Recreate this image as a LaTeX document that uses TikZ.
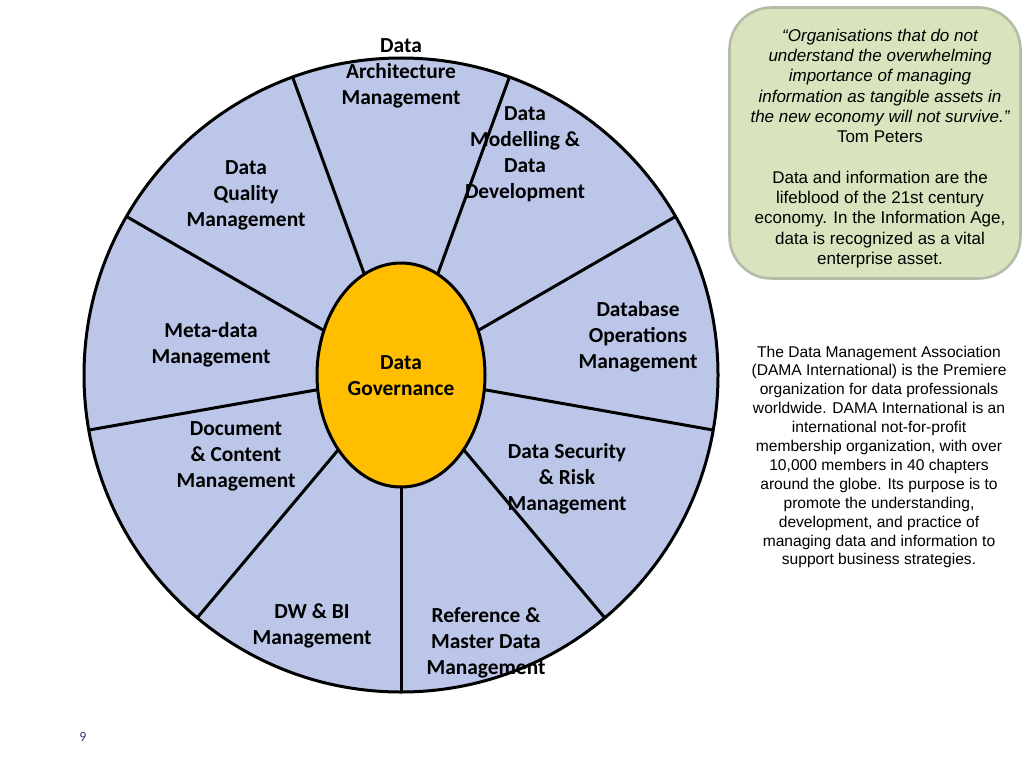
\documentclass[tikz,border=0pt]{standalone}
\usepackage{fontspec}
\setmainfont{Liberation Sans}
\newfontfamily\wheelfont{Carlito}
\usepackage{tikz}
\usetikzlibrary{positioning}
\usetikzlibrary{shapes.geometric}
\definecolor{wheelblue}{HTML}{BBC6E8}
\definecolor{hubgold}{HTML}{FFBF00}
\definecolor{quotegreen}{HTML}{D7E4BD}
\definecolor{quoteedge}{HTML}{B4BCA8}
\definecolor{pagenum}{HTML}{2F3F6B}
\tikzset{
  seglabel/.style={align=center, inner sep=0pt, font=\wheelfont\bfseries\fontsize{21.4}{26}\selectfont},
  sidetext/.style={align=center, inner sep=0pt, text=black},
  spoke/.style={draw=black, line width=3pt}
}

\begin{document}
\begin{tikzpicture}[x=1pt, y=-1pt]
    \useasboundingbox (0,0) rectangle (1024,768);

    \node [circle, draw=black, line width=3pt, fill=wheelblue, minimum size=634pt, inner sep=0pt, outer sep=0pt] (wheel) at (401,375) {};
    \node [ellipse, minimum width=168pt, minimum height=224pt, inner sep=0pt, outer sep=0pt] (hub) at (401,375) {};

    \foreach \a in {70,30,-10,-50,-90,-130,-170,150,110}
      \draw [spoke] (hub.\a) -- (wheel.\a);

    \node [ellipse, draw=black, line width=3pt, fill=hubgold, minimum width=168pt, minimum height=224pt, inner sep=0pt, outer sep=0pt] at (hub.center) {};

    \node [seglabel] (gov) at (401,376) {Data\\Governance};
    \node [seglabel] (arch) at (401,73) {Data\\Architecture\\Management};
    \node [seglabel] (model) at (525,154) {Data\\Modelling \&\\Data\\Development};
    \node [seglabel] (dbops) at (638,337) {Database\\Operations\\Management};
    \node [seglabel] (secur) at (567,479) {Data Security\\\& Risk\\Management};
    \node [seglabel] (refmd) at (486,643) {Reference \&\\Master Data\\Management};
    \node [seglabel] (dwbi) at (312,626) {DW \& BI\\Management};
    \node [seglabel] (docs) at (236,456) {Document\\\& Content\\Management};
    \node [seglabel] (meta) at (211,345) {Meta-data\\Management};
    \node [seglabel] (qual) at (246,195) {Data\\Quality\\Management};

    \node [draw=quoteedge, line width=2.6pt, fill=quotegreen, rounded corners=42pt, minimum width=291pt, minimum height=271pt, inner sep=0pt, outer sep=0pt] (quote) at (875,143) {};
    \node [sidetext, font=\fontsize{17}{20.3}\selectfont] (quotetxt) at (880,148.5) {\itshape “Organisations that do not\\\itshape understand the overwhelming\\\itshape importance of managing\\\itshape information as tangible assets in\\\itshape the new economy will not survive.”\\Tom Peters\\[20.3pt]Data and information are the\\lifeblood of the 21st century\\economy. In the Information Age,\\data is recognized as a vital\\enterprise asset.};

    \node [sidetext, font=\fontsize{15.6}{18.9}\selectfont] (dama) at (879,457) {The Data Management Association\\(DAMA International) is the Premiere\\organization for data professionals\\worldwide. DAMA International is an\\international not-for-profit\\membership organization, with over\\10,000 members in 40 chapters\\around the globe. Its purpose is to\\promote the understanding,\\development, and practice of\\managing data and information to\\support business strategies.};

    \node [inner sep=0pt, text=pagenum, font=\wheelfont\fontsize{14}{16}\selectfont] (pgnum) at (83,737) {9};
\end{tikzpicture}
\end{document}
